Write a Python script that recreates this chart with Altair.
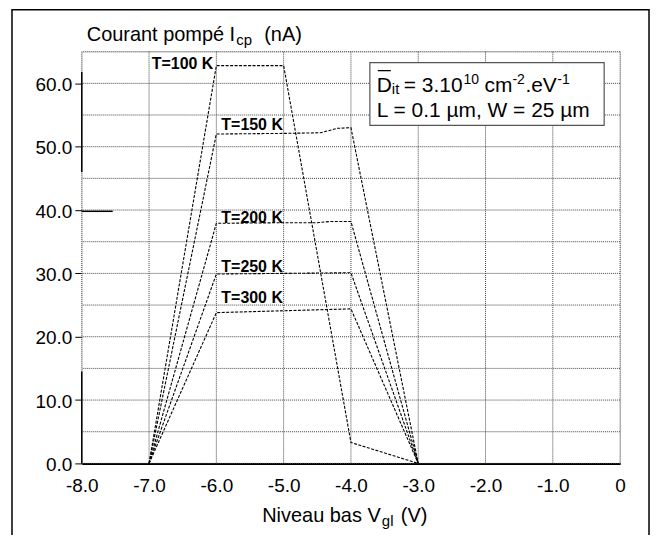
import altair as alt
import pandas as pd

# ---------------- data ----------------
temps = ["T=100 K", "T=150 K", "T=200 K", "T=250 K", "T=300 K"]

x_100 = [-7, -6, -5, -4, -3]
y_100 = [0, 62.8, 62.8, 3.3, 0]
x_150 = [-7, -6, -5, -4.45, -4.2, -4, -3]
y_150 = [0, 52.0, 52.1, 52.2, 52.9, 53.0, 0]
x_200 = [-7, -6, -5, -4.5, -4.3, -4, -3]
y_200 = [0, 37.9, 38.0, 38.0, 38.2, 38.2, 0]
x_250 = [-7, -6, -5, -4, -3]
y_250 = [0, 29.9, 30.0, 30.1, 0]
x_300 = [-7, -6, -5, -4, -3]
y_300 = [0, 23.8, 24.1, 24.4, 0]

label_x = [-6, -6, -6, -6, -6]
label_y = [62.2, 52.7, 38.0, 30.2, 25.3]

x_ticks = [-8, -7, -6, -5, -4, -3, -2, -1, 0]
y_ticks = [0, 10, 20, 30, 40, 50, 60]
y_grid = [0, 5, 10, 15, 20, 25, 30, 35, 40, 45, 50, 55, 60, 65]

FONT = "Liberation Sans"

rows = []
for t, xs_, ys_ in zip(temps, [x_100, x_150, x_200, x_250, x_300],
                       [y_100, y_150, y_200, y_250, y_300]):
    for i, (a, b) in enumerate(zip(xs_, ys_)):
        rows.append({"T": t, "x": a, "y": b, "i": i})
curves = pd.DataFrame(rows)
labels = pd.DataFrame({"T": temps, "x": label_x, "y": label_y})

xs = alt.Scale(domain=[-8, 0], nice=False, zero=False)
ys = alt.Scale(domain=[0, 65], nice=False, zero=False)

one = alt.Data(values=[{"a": 1}])

# grid
vgrid = alt.Chart(pd.DataFrame({"x": x_ticks})).mark_rule(
    color="#444", strokeDash=[1, 1], strokeWidth=1
).encode(x=alt.X("x:Q", scale=xs))
hgrid = alt.Chart(pd.DataFrame({"y": y_grid})).mark_rule(
    color="#444", strokeDash=[1, 1], strokeWidth=1
).encode(y=alt.Y("y:Q", scale=ys))

# axes (labels only)
axes = alt.Chart(pd.DataFrame({"x": [-8, 0], "y": [0, 0]})).mark_point(opacity=0).encode(
    x=alt.X("x:Q", scale=xs, title=None,
            axis=alt.Axis(values=x_ticks, grid=False, ticks=False, domain=True,
                          domainColor="black", domainWidth=2, labelFlush=False,
                          labelFont=FONT, labelFontSize=19, labelColor="black",
                          labelPadding=13,
                          labelExpr="datum.value == 0 ? '0' : (datum.value < 0 ? '-' : '') + format(abs(datum.value), '.1f')")),
    y=alt.Y("y:Q", scale=ys, title=None,
            axis=alt.Axis(values=y_ticks, grid=False, domain=False, labelFlush=False,
                          tickSize=7, tickColor="black", labelPadding=3,
                          labelFont=FONT, labelFontSize=19, labelColor="black",
                          labelOffset=1,
                          labelExpr="format(datum.value, '.1f')")),
)

# curves
lines = alt.Chart(curves).mark_line(
    color="black", strokeDash=[3, 1.5], strokeWidth=1.1
).encode(
    x=alt.X("x:Q", scale=xs), y=alt.Y("y:Q", scale=ys),
    detail="T:N", order="i:Q",
)

lab_left = alt.Chart(labels).transform_filter(alt.datum.T == "T=100 K").mark_text(
    font=FONT, fontSize=16, fontWeight="bold", align="right", baseline="alphabetic",
    dx=-3, color="black"
).encode(x=alt.X("x:Q", scale=xs), y=alt.Y("y:Q", scale=ys), text="T:N")
lab_right = alt.Chart(labels).transform_filter(alt.datum.T != "T=100 K").mark_text(
    font=FONT, fontSize=16, fontWeight="bold", align="left", baseline="alphabetic",
    dx=5, color="black"
).encode(x=alt.X("x:Q", scale=xs), y=alt.Y("y:Q", scale=ys), text="T:N")

# scan artefacts on the left axis
art_v = alt.Chart(pd.DataFrame({"x": [-8, -8], "y": [0, 46], "y2": [14.5, 61.8]})).mark_rule(
    color="black", strokeWidth=1.5
).encode(x=alt.X("x:Q", scale=xs), y=alt.Y("y:Q", scale=ys), y2="y2:Q")
art_h = alt.Chart(pd.DataFrame({"x": [-8], "x2": [-7.54], "y": [39.8]})).mark_rule(
    color="black", strokeWidth=1.5
).encode(x=alt.X("x:Q", scale=xs), x2="x2:Q", y=alt.Y("y:Q", scale=ys))

# outer frame
frame = alt.Chart(one).mark_rect(fill="transparent", stroke="black", strokeWidth=1.5).encode(
    x=alt.value(-70), x2=alt.value(569), y=alt.value(-42), y2=alt.value(500)
)

# legend box
box = alt.Chart(one).mark_rect(fill="white", stroke="#555", strokeWidth=1.2).encode(
    x=alt.value(289), x2=alt.value(524), y=alt.value(11), y2=alt.value(74)
)
overbar = alt.Chart(one).mark_rule(color="black", strokeWidth=1.3).encode(
    x=alt.value(297), x2=alt.value(310), y=alt.value(19)
)

pieces = [
    # title
    ("Courant pompé I", 5, -11, 20),
    ("cp", 155, -7, 15),
    ("(nA)", 183, -11, 20),
    # x title
    ("Niveau bas V", 181, 472, 20),
    ("gl", 301, 476, 15),
    ("(V)", 320, 472, 20),
    # legend box text
    ("D", 296, 40, 21),
    ("it", 311, 42, 15),
    ("= 3.10", 323, 40, 21),
    ("10", 383, 32, 14),
    ("cm", 404, 40, 21),
    ("-2", 432, 32, 14),
    (".eV", 445, 40, 21),
    ("-1", 477, 32, 14),
    ("L = 0.1 µm, W = 25 µm", 296, 66, 21),
]
texts = []
for txt, px, py, fs in pieces:
    texts.append(
        alt.Chart(one).mark_text(
            text=txt, font=FONT, fontSize=fs, align="left", baseline="alphabetic", color="black"
        ).encode(x=alt.value(px), y=alt.value(py))
    )

chart = alt.layer(
    frame, vgrid, hgrid, axes, art_v, art_h, lines, lab_left, lab_right, box, overbar, *texts
).properties(
    width=540, height=413,
    padding={"left": 74, "top": 43, "right": 33, "bottom": 71},
    autosize=alt.AutoSizeParams(type="none"),
).configure_view(stroke=None).configure(background="white")

chart.save("out.html", embed_options={"renderer": "svg", "actions": False})
